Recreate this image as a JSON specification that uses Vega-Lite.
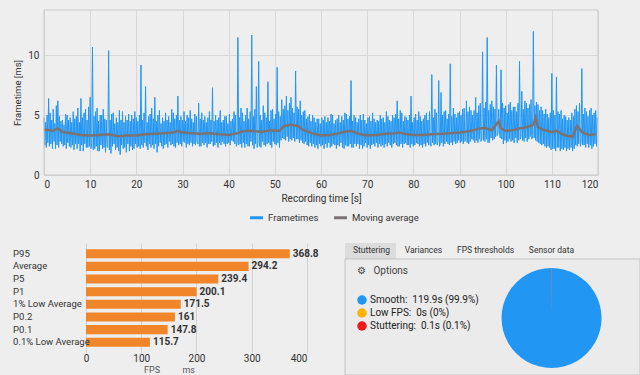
{
  "$schema": "https://vega.github.io/schema/vega-lite/v6.json",
  "background": "#eeeeee",
  "padding": {"left": 12, "top": 9, "right": 3, "bottom": 0},
  "config": {
    "font": "Roboto",
    "view": {"stroke": null},
    "axis": {"labelColor": "#333", "titleColor": "#333", "titleFontWeight": "normal", "labelFontSize": 10, "titleFontSize": 10, "domain": false, "ticks": false, "gridColor": "#d8d8d8"}
  },
  "resolve": {"scale": {"color": "independent"}, "legend": {"color": "independent"}},
  "datasets": {
    "frametimes": [
      {"t":0,"ms":4.8},{"t":0.17,"ms":2.5},{"t":0.33,"ms":4.4},{"t":0.5,"ms":2.3},{"t":0.67,"ms":5.0},{"t":0.83,"ms":2.7},
      {"t":1,"ms":6.4},{"t":1.17,"ms":2.4},{"t":1.33,"ms":5.2},{"t":1.5,"ms":2.6},{"t":1.67,"ms":4.6},{"t":1.83,"ms":2.2},
      {"t":2,"ms":5.5},{"t":2.17,"ms":2.8},{"t":2.33,"ms":4.3},{"t":2.5,"ms":2.2},{"t":2.67,"ms":5.8},{"t":2.83,"ms":2.5},
      {"t":3,"ms":6.2},{"t":3.17,"ms":2.3},{"t":3.33,"ms":4.9},{"t":3.5,"ms":2.8},{"t":3.67,"ms":4.5},{"t":3.83,"ms":2.6},
      {"t":4,"ms":4.6},{"t":4.17,"ms":2.4},{"t":4.33,"ms":4.2},{"t":4.5,"ms":2.5},{"t":4.67,"ms":5.1},{"t":4.83,"ms":2.2},
      {"t":5,"ms":5.0},{"t":5.17,"ms":2.7},{"t":5.33,"ms":4.6},{"t":5.5,"ms":2.4},{"t":5.67,"ms":4.8},{"t":5.83,"ms":2.3},
      {"t":6,"ms":4.4},{"t":6.17,"ms":2.5},{"t":6.33,"ms":5.3},{"t":6.5,"ms":2.1},{"t":6.67,"ms":4.7},{"t":6.83,"ms":2.6},
      {"t":7,"ms":4.9},{"t":7.17,"ms":2.2},{"t":7.33,"ms":5.6},{"t":7.5,"ms":2.6},{"t":7.67,"ms":4.4},{"t":7.83,"ms":2.0},
      {"t":8,"ms":6.4},{"t":8.17,"ms":2.5},{"t":8.33,"ms":4.8},{"t":8.5,"ms":2.0},{"t":8.67,"ms":5.2},{"t":8.83,"ms":2.6},
      {"t":9,"ms":5.5},{"t":9.17,"ms":2.3},{"t":9.33,"ms":4.6},{"t":9.5,"ms":2.3},{"t":9.67,"ms":5.7},{"t":9.83,"ms":2.4},
      {"t":10,"ms":6.5},{"t":10.17,"ms":2.2},{"t":10.33,"ms":2.6},{"t":10.5,"ms":10.7},{"t":10.67,"ms":2.1},{"t":10.83,"ms":4.9},
      {"t":11,"ms":2.2},{"t":11.17,"ms":5.3},{"t":11.33,"ms":2.4},{"t":11.5,"ms":5.6},{"t":11.67,"ms":2.0},{"t":11.83,"ms":4.5},
      {"t":12,"ms":2.0},{"t":12.17,"ms":5.0},{"t":12.33,"ms":2.5},{"t":12.5,"ms":5.0},{"t":12.67,"ms":2.2},{"t":12.83,"ms":5.5},
      {"t":13,"ms":2.3},{"t":13.17,"ms":4.7},{"t":13.33,"ms":1.9},{"t":13.5,"ms":4.6},{"t":13.67,"ms":2.4},{"t":13.83,"ms":2.3},
      {"t":14,"ms":10.4},{"t":14.17,"ms":2.1},{"t":14.33,"ms":4.6},{"t":14.5,"ms":1.8},{"t":14.67,"ms":5.1},{"t":14.83,"ms":2.4},
      {"t":15,"ms":5.2},{"t":15.17,"ms":2.6},{"t":15.33,"ms":4.3},{"t":15.5,"ms":2.1},{"t":15.67,"ms":4.8},{"t":15.83,"ms":2.3},
      {"t":16,"ms":4.4},{"t":16.17,"ms":2.0},{"t":16.33,"ms":5.4},{"t":16.5,"ms":1.7},{"t":16.67,"ms":4.6},{"t":16.83,"ms":2.5},
      {"t":17,"ms":5.3},{"t":17.17,"ms":2.2},{"t":17.33,"ms":4.4},{"t":17.5,"ms":2.3},{"t":17.67,"ms":4.9},{"t":17.83,"ms":1.9},
      {"t":18,"ms":4.6},{"t":18.17,"ms":2.6},{"t":18.33,"ms":5.1},{"t":18.5,"ms":2.0},{"t":18.67,"ms":4.5},{"t":18.83,"ms":2.4},
      {"t":19,"ms":5.0},{"t":19.17,"ms":2.1},{"t":19.33,"ms":4.7},{"t":19.5,"ms":2.2},{"t":19.67,"ms":5.3},{"t":19.83,"ms":2.6},
      {"t":20,"ms":4.8},{"t":20.17,"ms":2.3},{"t":20.33,"ms":4.5},{"t":20.5,"ms":2.4},{"t":20.67,"ms":5.0},{"t":20.83,"ms":2.2},
      {"t":21,"ms":9.2},{"t":21.17,"ms":2.5},{"t":21.33,"ms":4.6},{"t":21.5,"ms":2.3},{"t":21.67,"ms":5.2},{"t":21.83,"ms":2.7},
      {"t":22,"ms":7.4},{"t":22.17,"ms":2.4},{"t":22.33,"ms":4.4},{"t":22.5,"ms":2.1},{"t":22.67,"ms":4.9},{"t":22.83,"ms":2.6},
      {"t":23,"ms":5.1},{"t":23.17,"ms":2.3},{"t":23.33,"ms":5.6},{"t":23.5,"ms":2.5},{"t":23.67,"ms":4.7},{"t":23.83,"ms":2.2},
      {"t":24,"ms":6.5},{"t":24.17,"ms":2.6},{"t":24.33,"ms":4.5},{"t":24.5,"ms":1.9},{"t":24.67,"ms":5.0},{"t":24.83,"ms":2.4},
      {"t":25,"ms":5.4},{"t":25.17,"ms":2.7},{"t":25.33,"ms":4.3},{"t":25.5,"ms":2.4},{"t":25.67,"ms":4.8},{"t":25.83,"ms":2.2},
      {"t":26,"ms":4.5},{"t":26.17,"ms":2.5},{"t":26.33,"ms":5.2},{"t":26.5,"ms":2.6},{"t":26.67,"ms":4.6},{"t":26.83,"ms":2.3},
      {"t":27,"ms":4.9},{"t":27.17,"ms":2.8},{"t":27.33,"ms":4.4},{"t":27.5,"ms":2.5},{"t":27.67,"ms":5.5},{"t":27.83,"ms":2.6},
      {"t":28,"ms":5.2},{"t":28.17,"ms":2.4},{"t":28.33,"ms":4.7},{"t":28.5,"ms":2.3},{"t":28.67,"ms":5.0},{"t":28.83,"ms":2.7},
      {"t":29,"ms":6.6},{"t":29.17,"ms":2.5},{"t":29.33,"ms":4.6},{"t":29.5,"ms":2.6},{"t":29.67,"ms":4.9},{"t":29.83,"ms":2.4},
      {"t":30,"ms":4.6},{"t":30.17,"ms":2.8},{"t":30.33,"ms":5.3},{"t":30.5,"ms":2.7},{"t":30.67,"ms":4.5},{"t":30.83,"ms":2.3},
      {"t":31,"ms":5.0},{"t":31.17,"ms":2.6},{"t":31.33,"ms":4.8},{"t":31.5,"ms":2.5},{"t":31.67,"ms":5.4},{"t":31.83,"ms":2.7},
      {"t":32,"ms":4.7},{"t":32.17,"ms":2.4},{"t":32.33,"ms":4.4},{"t":32.5,"ms":2.6},{"t":32.67,"ms":5.1},{"t":32.83,"ms":2.5},
      {"t":33,"ms":4.9},{"t":33.17,"ms":2.8},{"t":33.33,"ms":2.6},{"t":33.5,"ms":6.0},{"t":33.67,"ms":2.4},{"t":33.83,"ms":4.7},
      {"t":34,"ms":2.4},{"t":34.17,"ms":5.2},{"t":34.33,"ms":2.7},{"t":34.5,"ms":4.6},{"t":34.67,"ms":2.5},{"t":34.83,"ms":4.9},
      {"t":35,"ms":2.7},{"t":35.17,"ms":4.4},{"t":35.33,"ms":2.3},{"t":35.5,"ms":4.8},{"t":35.67,"ms":2.6},{"t":35.83,"ms":5.3},
      {"t":36,"ms":2.6},{"t":36.17,"ms":4.6},{"t":36.33,"ms":2.8},{"t":36.5,"ms":7.3},{"t":36.67,"ms":2.4},{"t":36.83,"ms":4.5},
      {"t":37,"ms":2.5},{"t":37.17,"ms":5.0},{"t":37.33,"ms":2.7},{"t":37.5,"ms":4.6},{"t":37.67,"ms":2.3},{"t":37.83,"ms":4.8},
      {"t":38,"ms":2.7},{"t":38.17,"ms":5.4},{"t":38.33,"ms":2.5},{"t":38.5,"ms":4.4},{"t":38.67,"ms":2.8},{"t":38.83,"ms":4.6},
      {"t":39,"ms":2.6},{"t":39.17,"ms":4.9},{"t":39.33,"ms":2.4},{"t":39.5,"ms":4.9},{"t":39.67,"ms":2.6},{"t":39.83,"ms":4.3},
      {"t":40,"ms":2.7},{"t":40.17,"ms":5.1},{"t":40.33,"ms":2.5},{"t":40.5,"ms":4.5},{"t":40.67,"ms":2.9},{"t":40.83,"ms":4.7},
      {"t":41,"ms":2.8},{"t":41.17,"ms":5.3},{"t":41.33,"ms":2.6},{"t":41.5,"ms":5.0},{"t":41.67,"ms":2.4},{"t":41.83,"ms":2.7},
      {"t":42,"ms":11.5},{"t":42.17,"ms":2.5},{"t":42.33,"ms":4.8},{"t":42.5,"ms":2.6},{"t":42.67,"ms":5.6},{"t":42.83,"ms":2.3},
      {"t":43,"ms":5.2},{"t":43.17,"ms":2.7},{"t":43.33,"ms":4.5},{"t":43.5,"ms":2.3},{"t":43.67,"ms":5.0},{"t":43.83,"ms":2.6},
      {"t":44,"ms":5.6},{"t":44.17,"ms":2.4},{"t":44.33,"ms":4.7},{"t":44.5,"ms":2.4},{"t":44.67,"ms":5.3},{"t":44.83,"ms":2.8},
      {"t":45,"ms":11.7},{"t":45.17,"ms":2.5},{"t":45.33,"ms":4.9},{"t":45.5,"ms":2.2},{"t":45.67,"ms":5.5},{"t":45.83,"ms":2.6},
      {"t":46,"ms":7.4},{"t":46.17,"ms":2.3},{"t":46.33,"ms":2.7},{"t":46.5,"ms":9.5},{"t":46.67,"ms":2.4},{"t":46.83,"ms":5.0},
      {"t":47,"ms":2.3},{"t":47.17,"ms":4.6},{"t":47.33,"ms":2.8},{"t":47.5,"ms":5.8},{"t":47.67,"ms":2.5},{"t":47.83,"ms":5.2},
      {"t":48,"ms":2.4},{"t":48.17,"ms":4.8},{"t":48.33,"ms":2.6},{"t":48.5,"ms":7.8},{"t":48.67,"ms":2.7},{"t":48.83,"ms":4.5},
      {"t":49,"ms":2.5},{"t":49.17,"ms":5.4},{"t":49.33,"ms":2.3},{"t":49.5,"ms":5.5},{"t":49.67,"ms":2.8},{"t":49.83,"ms":4.7},
      {"t":50,"ms":2.6},{"t":50.17,"ms":5.1},{"t":50.33,"ms":2.5},{"t":50.5,"ms":9.0},{"t":50.67,"ms":2.7},{"t":50.83,"ms":5.3},
      {"t":51,"ms":2.3},{"t":51.17,"ms":4.9},{"t":51.33,"ms":2.9},{"t":51.5,"ms":6.3},{"t":51.67,"ms":3.1},{"t":51.83,"ms":5.5},
      {"t":52,"ms":3.0},{"t":52.17,"ms":5.8},{"t":52.33,"ms":2.9},{"t":52.5,"ms":6.6},{"t":52.67,"ms":3.2},{"t":52.83,"ms":5.4},
      {"t":53,"ms":2.8},{"t":53.17,"ms":6.0},{"t":53.33,"ms":3.0},{"t":53.5,"ms":6.5},{"t":53.67,"ms":2.9},{"t":53.83,"ms":5.6},
      {"t":54,"ms":3.1},{"t":54.17,"ms":5.2},{"t":54.33,"ms":2.8},{"t":54.5,"ms":8.7},{"t":54.67,"ms":3.0},{"t":54.83,"ms":5.7},
      {"t":55,"ms":3.0},{"t":55.17,"ms":5.5},{"t":55.33,"ms":2.7},{"t":55.5,"ms":6.2},{"t":55.67,"ms":2.9},{"t":55.83,"ms":5.0},
      {"t":56,"ms":2.7},{"t":56.17,"ms":5.3},{"t":56.33,"ms":2.6},{"t":56.5,"ms":5.4},{"t":56.67,"ms":2.8},{"t":56.83,"ms":4.7},
      {"t":57,"ms":2.5},{"t":57.17,"ms":4.9},{"t":57.33,"ms":2.4},{"t":57.5,"ms":5.1},{"t":57.67,"ms":2.7},{"t":57.83,"ms":4.5},
      {"t":58,"ms":2.4},{"t":58.17,"ms":5.0},{"t":58.33,"ms":2.6},{"t":58.5,"ms":4.8},{"t":58.67,"ms":2.3},{"t":58.83,"ms":4.4},
      {"t":59,"ms":2.5},{"t":59.17,"ms":4.7},{"t":59.33,"ms":2.2},{"t":59.5,"ms":4.7},{"t":59.67,"ms":2.6},{"t":59.83,"ms":4.3},
      {"t":60,"ms":2.4},{"t":60.17,"ms":4.8},{"t":60.33,"ms":2.5},{"t":60.5,"ms":4.6},{"t":60.67,"ms":2.2},{"t":60.83,"ms":4.9},
      {"t":61,"ms":2.6},{"t":61.17,"ms":4.4},{"t":61.33,"ms":2.3},{"t":61.5,"ms":4.8},{"t":61.67,"ms":2.7},{"t":61.83,"ms":4.5},
      {"t":62,"ms":2.3},{"t":62.17,"ms":5.1},{"t":62.33,"ms":2.4},{"t":62.5,"ms":5.0},{"t":62.67,"ms":2.6},{"t":62.83,"ms":4.3},
      {"t":63,"ms":2.5},{"t":63.17,"ms":4.6},{"t":63.33,"ms":2.2},{"t":63.5,"ms":4.7},{"t":63.67,"ms":2.5},{"t":63.83,"ms":5.0},
      {"t":64,"ms":2.4},{"t":64.17,"ms":4.4},{"t":64.33,"ms":2.7},{"t":64.5,"ms":4.9},{"t":64.67,"ms":2.3},{"t":64.83,"ms":4.6},
      {"t":65,"ms":2.2},{"t":65.17,"ms":5.2},{"t":65.33,"ms":2.5},{"t":65.5,"ms":5.1},{"t":65.67,"ms":2.4},{"t":65.83,"ms":4.7},
      {"t":66,"ms":2.4},{"t":66.17,"ms":4.9},{"t":66.33,"ms":2.6},{"t":66.5,"ms":7.9},{"t":66.67,"ms":2.3},{"t":66.83,"ms":4.5},
      {"t":67,"ms":2.3},{"t":67.17,"ms":5.0},{"t":67.33,"ms":2.6},{"t":67.5,"ms":4.8},{"t":67.67,"ms":2.4},{"t":67.83,"ms":4.4},
      {"t":68,"ms":2.6},{"t":68.17,"ms":4.7},{"t":68.33,"ms":2.2},{"t":68.5,"ms":5.0},{"t":68.67,"ms":2.5},{"t":68.83,"ms":4.6},
      {"t":69,"ms":2.2},{"t":69.17,"ms":5.1},{"t":69.33,"ms":2.4},{"t":69.5,"ms":4.6},{"t":69.67,"ms":2.7},{"t":69.83,"ms":4.3},
      {"t":70,"ms":2.3},{"t":70.17,"ms":4.8},{"t":70.33,"ms":2.5},{"t":70.5,"ms":4.9},{"t":70.67,"ms":2.2},{"t":70.83,"ms":4.5},
      {"t":71,"ms":2.5},{"t":71.17,"ms":5.2},{"t":71.33,"ms":2.6},{"t":71.5,"ms":4.7},{"t":71.67,"ms":2.4},{"t":71.83,"ms":4.4},
      {"t":72,"ms":2.7},{"t":72.17,"ms":4.6},{"t":72.33,"ms":2.3},{"t":72.5,"ms":4.5},{"t":72.67,"ms":2.6},{"t":72.83,"ms":5.0},
      {"t":73,"ms":2.4},{"t":73.17,"ms":4.7},{"t":73.33,"ms":2.5},{"t":73.5,"ms":4.8},{"t":73.67,"ms":2.3},{"t":73.83,"ms":4.4},
      {"t":74,"ms":2.6},{"t":74.17,"ms":5.3},{"t":74.33,"ms":2.4},{"t":74.5,"ms":4.9},{"t":74.67,"ms":2.7},{"t":74.83,"ms":4.6},
      {"t":75,"ms":2.5},{"t":75.17,"ms":4.5},{"t":75.33,"ms":2.3},{"t":75.5,"ms":5.0},{"t":75.67,"ms":2.6},{"t":75.83,"ms":4.8},
      {"t":76,"ms":2.7},{"t":76.17,"ms":5.1},{"t":76.33,"ms":2.5},{"t":76.5,"ms":6.2},{"t":76.67,"ms":2.4},{"t":76.83,"ms":4.7},
      {"t":77,"ms":2.4},{"t":77.17,"ms":5.4},{"t":77.33,"ms":2.6},{"t":77.5,"ms":5.2},{"t":77.67,"ms":2.3},{"t":77.83,"ms":4.5},
      {"t":78,"ms":2.6},{"t":78.17,"ms":4.9},{"t":78.33,"ms":2.7},{"t":78.5,"ms":4.8},{"t":78.67,"ms":2.5},{"t":78.83,"ms":4.6},
      {"t":79,"ms":2.5},{"t":79.17,"ms":5.0},{"t":79.33,"ms":2.3},{"t":79.5,"ms":6.6},{"t":79.67,"ms":2.6},{"t":79.83,"ms":4.4},
      {"t":80,"ms":2.4},{"t":80.17,"ms":4.8},{"t":80.33,"ms":2.5},{"t":80.5,"ms":5.1},{"t":80.67,"ms":2.7},{"t":80.83,"ms":4.6},
      {"t":81,"ms":2.6},{"t":81.17,"ms":5.3},{"t":81.33,"ms":2.4},{"t":81.5,"ms":4.9},{"t":81.67,"ms":2.5},{"t":81.83,"ms":4.5},
      {"t":82,"ms":2.3},{"t":82.17,"ms":4.7},{"t":82.33,"ms":2.6},{"t":82.5,"ms":5.0},{"t":82.67,"ms":2.4},{"t":82.83,"ms":5.2},
      {"t":83,"ms":2.7},{"t":83.17,"ms":4.6},{"t":83.33,"ms":2.5},{"t":83.5,"ms":5.3},{"t":83.67,"ms":2.6},{"t":83.83,"ms":2.4},
      {"t":84,"ms":8.4},{"t":84.17,"ms":2.7},{"t":84.33,"ms":4.8},{"t":84.5,"ms":2.5},{"t":84.67,"ms":5.5},{"t":84.83,"ms":2.6},
      {"t":85,"ms":5.2},{"t":85.17,"ms":2.5},{"t":85.33,"ms":2.8},{"t":85.5,"ms":7.9},{"t":85.67,"ms":2.4},{"t":85.83,"ms":2.6},
      {"t":86,"ms":6.9},{"t":86.17,"ms":2.7},{"t":86.33,"ms":5.0},{"t":86.5,"ms":2.4},{"t":86.67,"ms":5.3},{"t":86.83,"ms":2.6},
      {"t":87,"ms":5.4},{"t":87.17,"ms":2.8},{"t":87.33,"ms":4.7},{"t":87.5,"ms":2.6},{"t":87.67,"ms":5.1},{"t":87.83,"ms":2.5},
      {"t":88,"ms":9.3},{"t":88.17,"ms":2.7},{"t":88.33,"ms":4.9},{"t":88.5,"ms":2.5},{"t":88.67,"ms":5.6},{"t":88.83,"ms":2.8},
      {"t":89,"ms":5.1},{"t":89.17,"ms":2.6},{"t":89.33,"ms":4.8},{"t":89.5,"ms":2.7},{"t":89.67,"ms":5.2},{"t":89.83,"ms":2.9},
      {"t":90,"ms":5.3},{"t":90.17,"ms":2.7},{"t":90.33,"ms":5.0},{"t":90.5,"ms":2.8},{"t":90.67,"ms":5.5},{"t":90.83,"ms":2.6},
      {"t":91,"ms":5.6},{"t":91.17,"ms":2.8},{"t":91.33,"ms":2.9},{"t":91.5,"ms":6.2},{"t":91.67,"ms":2.7},{"t":91.83,"ms":5.3},
      {"t":92,"ms":2.6},{"t":92.17,"ms":5.7},{"t":92.33,"ms":2.8},{"t":92.5,"ms":5.4},{"t":92.67,"ms":3.0},{"t":92.83,"ms":5.0},
      {"t":93,"ms":2.9},{"t":93.17,"ms":5.4},{"t":93.33,"ms":2.7},{"t":93.5,"ms":6.5},{"t":93.67,"ms":2.9},{"t":93.83,"ms":5.2},
      {"t":94,"ms":2.7},{"t":94.17,"ms":5.8},{"t":94.33,"ms":3.0},{"t":94.5,"ms":6.0},{"t":94.67,"ms":2.8},{"t":94.83,"ms":3.1},
      {"t":95,"ms":10.3},{"t":95.17,"ms":2.9},{"t":95.33,"ms":5.6},{"t":95.5,"ms":2.8},{"t":95.67,"ms":6.1},{"t":95.83,"ms":3.0},
      {"t":96,"ms":11.5},{"t":96.17,"ms":2.7},{"t":96.33,"ms":5.4},{"t":96.5,"ms":2.7},{"t":96.67,"ms":5.9},{"t":96.83,"ms":3.1},
      {"t":97,"ms":6.2},{"t":97.17,"ms":2.9},{"t":97.33,"ms":5.7},{"t":97.5,"ms":3.0},{"t":97.67,"ms":5.5},{"t":97.83,"ms":3.2},
      {"t":98,"ms":9.2},{"t":98.17,"ms":3.3},{"t":98.33,"ms":3.5},{"t":98.5,"ms":5.5},{"t":98.67,"ms":3.4},{"t":98.83,"ms":3.1},
      {"t":99,"ms":8.8},{"t":99.17,"ms":3.0},{"t":99.33,"ms":6.0},{"t":99.5,"ms":2.6},{"t":99.67,"ms":5.6},{"t":99.83,"ms":2.9},
      {"t":100,"ms":5.8},{"t":100.17,"ms":2.7},{"t":100.33,"ms":5.2},{"t":100.5,"ms":2.8},{"t":100.67,"ms":5.9},{"t":100.83,"ms":3.0},
      {"t":101,"ms":6.1},{"t":101.17,"ms":2.8},{"t":101.33,"ms":5.4},{"t":101.5,"ms":2.9},{"t":101.67,"ms":5.7},{"t":101.83,"ms":2.7},
      {"t":102,"ms":5.7},{"t":102.17,"ms":3.1},{"t":102.33,"ms":5.3},{"t":102.5,"ms":2.7},{"t":102.67,"ms":6.0},{"t":102.83,"ms":2.9},
      {"t":103,"ms":9.5},{"t":103.17,"ms":3.0},{"t":103.33,"ms":3.2},{"t":103.5,"ms":7.0},{"t":103.67,"ms":2.9},{"t":103.83,"ms":5.5},
      {"t":104,"ms":2.8},{"t":104.17,"ms":6.2},{"t":104.33,"ms":3.1},{"t":104.5,"ms":6.0},{"t":104.67,"ms":2.8},{"t":104.83,"ms":5.6},
      {"t":105,"ms":3.0},{"t":105.17,"ms":5.9},{"t":105.33,"ms":3.2},{"t":105.5,"ms":6.3},{"t":105.67,"ms":3.0},{"t":105.83,"ms":3.3},
      {"t":106,"ms":12.0},{"t":106.17,"ms":3.1},{"t":106.33,"ms":5.8},{"t":106.5,"ms":2.9},{"t":106.67,"ms":6.1},{"t":106.83,"ms":2.8},
      {"t":107,"ms":5.9},{"t":107.17,"ms":2.7},{"t":107.33,"ms":5.4},{"t":107.5,"ms":2.6},{"t":107.67,"ms":5.7},{"t":107.83,"ms":2.5},
      {"t":108,"ms":5.4},{"t":108.17,"ms":2.6},{"t":108.33,"ms":5.1},{"t":108.5,"ms":2.4},{"t":108.67,"ms":5.5},{"t":108.83,"ms":2.3},
      {"t":109,"ms":5.1},{"t":109.17,"ms":2.4},{"t":109.33,"ms":4.8},{"t":109.5,"ms":2.3},{"t":109.67,"ms":5.2},{"t":109.83,"ms":2.1},
      {"t":110,"ms":8.5},{"t":110.17,"ms":2.2},{"t":110.33,"ms":5.4},{"t":110.5,"ms":2.2},{"t":110.67,"ms":5.0},{"t":110.83,"ms":2.0},
      {"t":111,"ms":8.2},{"t":111.17,"ms":2.3},{"t":111.33,"ms":5.3},{"t":111.5,"ms":2.3},{"t":111.67,"ms":5.1},{"t":111.83,"ms":2.0},
      {"t":112,"ms":5.4},{"t":112.17,"ms":2.2},{"t":112.33,"ms":4.7},{"t":112.5,"ms":2.1},{"t":112.67,"ms":5.0},{"t":112.83,"ms":2.3},
      {"t":113,"ms":4.9},{"t":113.17,"ms":2.0},{"t":113.33,"ms":4.6},{"t":113.5,"ms":2.2},{"t":113.67,"ms":4.8},{"t":113.83,"ms":2.1},
      {"t":114,"ms":4.6},{"t":114.17,"ms":2.3},{"t":114.33,"ms":5.2},{"t":114.5,"ms":2.0},{"t":114.67,"ms":4.9},{"t":114.83,"ms":2.2},
      {"t":115,"ms":5.5},{"t":115.17,"ms":2.5},{"t":115.33,"ms":5.8},{"t":115.5,"ms":2.4},{"t":115.67,"ms":5.3},{"t":115.83,"ms":2.6},
      {"t":116,"ms":6.0},{"t":116.17,"ms":2.4},{"t":116.33,"ms":2.7},{"t":116.5,"ms":8.9},{"t":116.67,"ms":2.5},{"t":116.83,"ms":5.1},
      {"t":117,"ms":2.5},{"t":117.17,"ms":5.6},{"t":117.33,"ms":2.3},{"t":117.5,"ms":5.3},{"t":117.67,"ms":2.6},{"t":117.83,"ms":4.9},
      {"t":118,"ms":2.3},{"t":118.17,"ms":5.4},{"t":118.33,"ms":2.5},{"t":118.5,"ms":5.6},{"t":118.67,"ms":2.2},{"t":118.83,"ms":5.0},
      {"t":119,"ms":2.4},{"t":119.17,"ms":5.2},{"t":119.33,"ms":2.6},{"t":119.5,"ms":5.4},{"t":119.67,"ms":2.4},{"t":119.83,"ms":4.8}
    ],
    "movavg": [
      {"t":0,"ms":3.8},{"t":2,"ms":3.7},{"t":3,"ms":3.9},{"t":4,"ms":3.6},{"t":6,"ms":3.5},{"t":8,"ms":3.35},{"t":10,"ms":3.3},{"t":12,"ms":3.35},{"t":14,"ms":3.4},{"t":16,"ms":3.25},
      {"t":18,"ms":3.3},{"t":20,"ms":3.3},{"t":22,"ms":3.4},{"t":24,"ms":3.45},{"t":26,"ms":3.5},{"t":28,"ms":3.55},{"t":29,"ms":3.7},{"t":30,"ms":3.55},{"t":32,"ms":3.5},{"t":34,"ms":3.45},
      {"t":36,"ms":3.5},{"t":38,"ms":3.4},{"t":40,"ms":3.35},{"t":42,"ms":3.5},{"t":43,"ms":3.65},{"t":45,"ms":3.7},{"t":47,"ms":3.6},{"t":49,"ms":3.75},{"t":51,"ms":3.7},{"t":52,"ms":4.1},
      {"t":53.5,"ms":4.2},{"t":55,"ms":4.1},{"t":56,"ms":3.8},{"t":58,"ms":3.5},{"t":60,"ms":3.3},{"t":62,"ms":3.35},{"t":64,"ms":3.5},{"t":65,"ms":3.6},{"t":66.5,"ms":3.7},{"t":68,"ms":3.45},
      {"t":70,"ms":3.3},{"t":72,"ms":3.35},{"t":74,"ms":3.45},{"t":76,"ms":3.5},{"t":77,"ms":3.55},{"t":78,"ms":3.45},{"t":80,"ms":3.35},{"t":82,"ms":3.35},{"t":84,"ms":3.4},{"t":86,"ms":3.45},
      {"t":88,"ms":3.5},{"t":90,"ms":3.55},{"t":92,"ms":3.65},{"t":94,"ms":3.85},{"t":95.5,"ms":3.95},{"t":97,"ms":3.75},{"t":98.5,"ms":4.5},{"t":99,"ms":3.9},{"t":100,"ms":3.7},{"t":101.5,"ms":3.75},
      {"t":103,"ms":3.9},{"t":104.5,"ms":4.0},{"t":106,"ms":4.2},{"t":106.5,"ms":4.8},{"t":107,"ms":4.0},{"t":108,"ms":3.8},{"t":110,"ms":3.6},{"t":111,"ms":3.7},{"t":112,"ms":3.45},{"t":113,"ms":3.3},
      {"t":114.5,"ms":3.2},{"t":115,"ms":3.7},{"t":115.5,"ms":4.1},{"t":116.5,"ms":3.6},{"t":118,"ms":3.35},{"t":119.5,"ms":3.4}
    ],
    "stats": [
      {"metric":"P95","fps":368.8},
      {"metric":"Average","fps":294.2},
      {"metric":"P5","fps":239.4},
      {"metric":"P1","fps":200.1},
      {"metric":"1% Low Average","fps":171.5},
      {"metric":"P0.2","fps":161},
      {"metric":"P0.1","fps":147.8},
      {"metric":"0.1% Low Average","fps":115.7}
    ],
    "stutter": [
      {"label":"Smooth:\u00a0 119.9s (99.9%)","seconds":119.9},
      {"label":"Low FPS:\u00a0 0s (0%)","seconds":0},
      {"label":"Stuttering:\u00a0 0.1s (0.1%)","seconds":0.1}
    ]
  },
  "columns": 1,
  "align": "none",
  "spacing": 19,
  "concat": [
    {
      "width": 554,
      "height": 165,
      "layer": [
        {
          "data": {"name": "frametimes"},
          "mark": {"type": "line", "strokeWidth": 1},
          "encoding": {
            "x": {"field": "t", "type": "quantitative", "scale": {"domain": [0, 120], "nice": false},
                  "axis": {"values": [0,10,20,30,40,50,60,70,80,90,100,110,120], "title": "Recording time [s]", "labelPadding": 4, "titlePadding": 4, "grid": true}},
            "y": {"field": "ms", "type": "quantitative", "scale": {"domain": [0, 13.8], "nice": false},
                  "axis": {"values": [0,5,10], "title": "Frametime [ms]", "titleFontSize": 9.5, "labelPadding": 5, "titlePadding": 5, "grid": true}},
            "color": {"datum": "Frametimes", "type": "nominal",
                      "scale": {"domain": ["Frametimes", "Moving average"], "range": ["#2196F3", "#7b7373"]},
                      "legend": {"orient": "none", "legendX": 204, "legendY": 199, "direction": "horizontal", "title": null, "symbolType": "stroke", "symbolStrokeWidth": 3, "symbolSize": 170, "labelFontSize": 9.5, "labelColor": "#333", "labelOffset": 3, "columnPadding": 8}}
          }
        },
        {
          "data": {"name": "movavg"},
          "mark": {"type": "line", "strokeWidth": 2.5},
          "encoding": {
            "x": {"field": "t", "type": "quantitative"},
            "y": {"field": "ms", "type": "quantitative"},
            "color": {"datum": "Moving average", "type": "nominal"}
          }
        },
        {
          "data": {"values": [{}]},
          "mark": {"type": "rect", "fill": null, "stroke": "#c9c9c9", "strokeWidth": 1},
          "encoding": {
            "x": {"datum": 0, "type": "quantitative"},
            "x2": {"datum": 120},
            "y": {"datum": 0, "type": "quantitative"},
            "y2": {"datum": 13.8}
          }
        }
      ]
    },
    {
      "columns": 2,
      "align": "none",
      "spacing": 25,
      "resolve": {"scale": {"color": "independent"}, "legend": {"color": "independent"}},
      "concat": [
        {
          "data": {"name": "stats"},
          "width": 263,
          "height": 110,
          "encoding": {
            "y": {"field": "metric", "type": "nominal", "sort": null, "scale": {"paddingInner": 0.28, "paddingOuter": 0.49}, "axis": null}
          },
          "layer": [
            {
              "mark": {"type": "bar", "color": "#F0852A"},
              "encoding": {
                "x": {"field": "fps", "type": "quantitative", "scale": {"domain": [-76, 400], "nice": false, "zero": false},
                      "axis": {"values": [0,100,200,300,400], "grid": true, "gridColor": "#d2d2d2", "labelPadding": 0, "title": "FPS\u00a0\u00a0\u00a0\u00a0\u00a0\u00a0\u00a0\u00a0\u00a0\u00a0ms", "titleFontSize": 9, "titleColor": "#555", "titlePadding": 2, "titleX": 125}},
                "x2": {"datum": 0}
              }
            },
            {
              "mark": {"type": "text", "align": "left", "dx": 3, "fontWeight": "bold", "fontSize": 10, "color": "#333"},
              "encoding": {
                "x": {"field": "fps", "type": "quantitative"},
                "text": {"field": "fps", "type": "nominal"}
              }
            },
            {
              "mark": {"type": "text", "align": "left", "fontSize": 9.5, "color": "#333", "clip": false},
              "encoding": {
                "x": {"datum": -132, "type": "quantitative"},
                "text": {"field": "metric", "type": "nominal"}
              }
            }
          ]
        },
        {
          "width": 295,
          "height": 132,
          "layer": [
            {
              "data": {"values": [{}]},
              "mark": {"type": "rect", "fill": "#dcdcdc"},
              "encoding": {
                "x": {"datum": 0, "type": "quantitative", "scale": {"domain": [0, 1], "nice": false}, "axis": null},
                "x2": {"datum": 0.173},
                "y": {"datum": 0.879, "type": "quantitative", "scale": {"domain": [0, 1], "nice": false}, "axis": null},
                "y2": {"datum": 1}
              }
            },
            {
              "data": {"values": [{}]},
              "mark": {"type": "rect", "fill": "#ebebeb", "stroke": "#c4c4c4"},
              "encoding": {
                "x": {"datum": 0, "type": "quantitative", "scale": {"domain": [0, 1], "nice": false}, "axis": null},
                "x2": {"datum": 1},
                "y": {"datum": 0, "type": "quantitative", "scale": {"domain": [0, 1], "nice": false}, "axis": null},
                "y2": {"datum": 0.879}
              }
            },
            {
              "data": {"values": [{}]},
              "mark": {"type": "text", "align": "left", "baseline": "middle", "fontSize": 8.5, "color": "#333"},
              "encoding": {
                "x": {"datum": 0.027, "type": "quantitative", "scale": {"domain": [0, 1], "nice": false}, "axis": null},
                "y": {"datum": 0.945, "type": "quantitative", "scale": {"domain": [0, 1], "nice": false}, "axis": null},
                "text": {"value": "Stuttering\u00a0\u00a0\u00a0\u00a0\u00a0\u00a0\u00a0Variances\u00a0\u00a0\u00a0\u00a0\u00a0\u00a0\u00a0FPS thresholds\u00a0\u00a0\u00a0\u00a0\u00a0\u00a0\u00a0Sensor data"}
              }
            },
            {
              "data": {"name": "stutter"},
              "mark": {"type": "arc", "outerRadius": 50},
              "encoding": {
                "x": {"datum": 0.7, "type": "quantitative", "scale": {"domain": [0, 1], "nice": false}, "axis": null},
                "y": {"datum": 0.432, "type": "quantitative", "scale": {"domain": [0, 1], "nice": false}, "axis": null},
                "theta": {"field": "seconds", "type": "quantitative", "stack": true},
                "color": {"field": "label", "type": "nominal", "sort": null,
                          "scale": {"domain": ["Smooth:\u00a0 119.9s (99.9%)", "Low FPS:\u00a0 0s (0%)", "Stuttering:\u00a0 0.1s (0.1%)"], "range": ["#2196F3", "#FFB300", "#F01818"]},
                          "legend": {"orient": "none", "legendX": 12, "legendY": 23, "title": "\u2699\u00a0\u00a0 Options", "titleFontSize": 10, "titleFontWeight": "normal", "titleColor": "#444", "titlePadding": 19,
                                     "symbolType": "circle", "symbolSize": 90, "symbolStrokeWidth": 0, "symbolOpacity": 1, "labelFontSize": 10, "labelColor": "#222", "rowPadding": 3, "labelOffset": 3}}
              }
            }
          ]
        }
      ]
    }
  ]
}
